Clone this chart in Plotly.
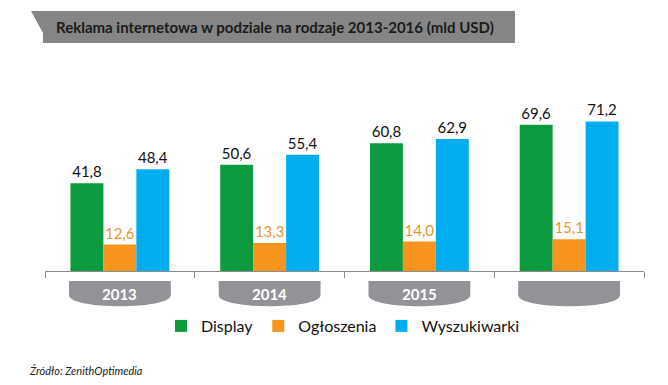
import plotly.graph_objects as go

# ---- data ----
years = ["2013", "2014", "2015", "2016"]
year_labels = ["2013", "2014", "2015", ""]
display = [41.8, 50.6, 60.8, 69.6]
ogloszenia = [12.6, 13.3, 14.0, 15.1]
wyszukiwarki = [48.4, 55.4, 62.9, 71.2]
series_names = ["Display", "Ogłoszenia", "Wyszukiwarki"]
title_text = "Reklama internetowa w podziale na rodzaje 2013-2016 (mld USD)"
source_text = "Źródło: ZenithOptimedia"

# ---- layout constants ----
W, H = 668, 385
ML, MR, MT, MB = 45, 24, 60, 114
PW, PH = W - ML - MR, H - MT - MB
FONT = "Lato, 'Open Sans', sans-serif"
colors = ["#0E9A3E", "#F7941D", "#00AEEF"]
label_colors = ["#111111", "#E8952E", "#111111"]


def px_x(px):
    return (px - ML) / PW


def px_y(py):
    return (H - MB - py) / PH


fig = go.Figure()
for name, vals, c, lc in zip(series_names, [display, ogloszenia, wyszukiwarki], colors, label_colors):
    fig.add_trace(go.Bar(
        x=years, y=vals, name=name, marker=dict(color=c, line=dict(width=0)),
        texttemplate="%{y:.1f}", textposition="outside",
        textfont=dict(family=FONT, size=15, color=lc), cliponaxis=False,
    ))

shapes = []
# title banner
tb = [(31, 11), (515, 11), (515, 43), (43, 43), (43, 33)]
path = "M " + " L ".join(f"{px_x(x):.5f},{px_y(y):.5f}" for x, y in tb) + " Z"
shapes.append(dict(type="path", xref="paper", yref="paper", path=path,
                   fillcolor="#858585", line=dict(width=0), layer="below"))

# year pills under the axis
top, side, bot = 281, 295, 310
for i, _ in enumerate(years):
    x0, x1 = i - 0.34, i + 0.34
    yt, ys, yb = px_y(top), px_y(side), px_y(bot)
    p = (f"M {x0},{yt} L {x1},{yt} L {x1},{ys} "
         f"C {x1},{yb} {x0},{yb} {x0},{ys} Z")
    shapes.append(dict(type="path", xref="x", yref="paper", path=p,
                       fillcolor="#929297", line=dict(width=0), layer="below"))

annotations = [
    dict(text=f"<b>{title_text}</b>", xref="paper", yref="paper",
         x=px_x(54), y=px_y(27), xanchor="left", yanchor="middle", showarrow=False,
         font=dict(family=FONT, size=15, color="#1a1a1a")),
    dict(text=f"<i>{source_text}</i>", xref="paper", yref="paper",
         x=px_x(27), y=px_y(370), xanchor="left", yanchor="middle", showarrow=False,
         font=dict(family=FONT, size=11, color="#222222")),
]
for i, lab in enumerate(year_labels):
    if lab:
        annotations.append(dict(text=f"<b>{lab}</b>", xref="paper", yref="paper",
                                x=(i + 0.5) / len(years), y=px_y(294),
                                xanchor="center", yanchor="middle", showarrow=False,
                                font=dict(family=FONT, size=15, color="#ffffff")))

fig.update_layout(
    width=W, height=H, margin=dict(l=ML, r=MR, t=MT, b=MB, autoexpand=False),
    paper_bgcolor="white", plot_bgcolor="white",
    barmode="group", bargap=0.34, bargroupgap=0,
    separators=", ",
    showlegend=True,
    legend=dict(orientation="h", x=px_x(343), xanchor="center", y=px_y(326), yanchor="middle",
                font=dict(family=FONT, size=16, color="#111111"),
                itemwidth=30, traceorder="normal"),
    shapes=shapes, annotations=annotations,
    font=dict(family=FONT),
)
fig.update_xaxes(type="category", range=[-0.5, 3.5], showline=True, linecolor="#8c8c8c",
                 linewidth=1, ticks="outside", tickson="boundaries", ticklen=6,
                 tickcolor="#8c8c8c", showticklabels=False, showgrid=False, zeroline=False)
fig.update_yaxes(range=[0, PH / 2.1], visible=False, showgrid=False, zeroline=False)

fig.write_html("out.html", config={"displayModeBar": False},
               post_script="document.body.style.margin='0';")
